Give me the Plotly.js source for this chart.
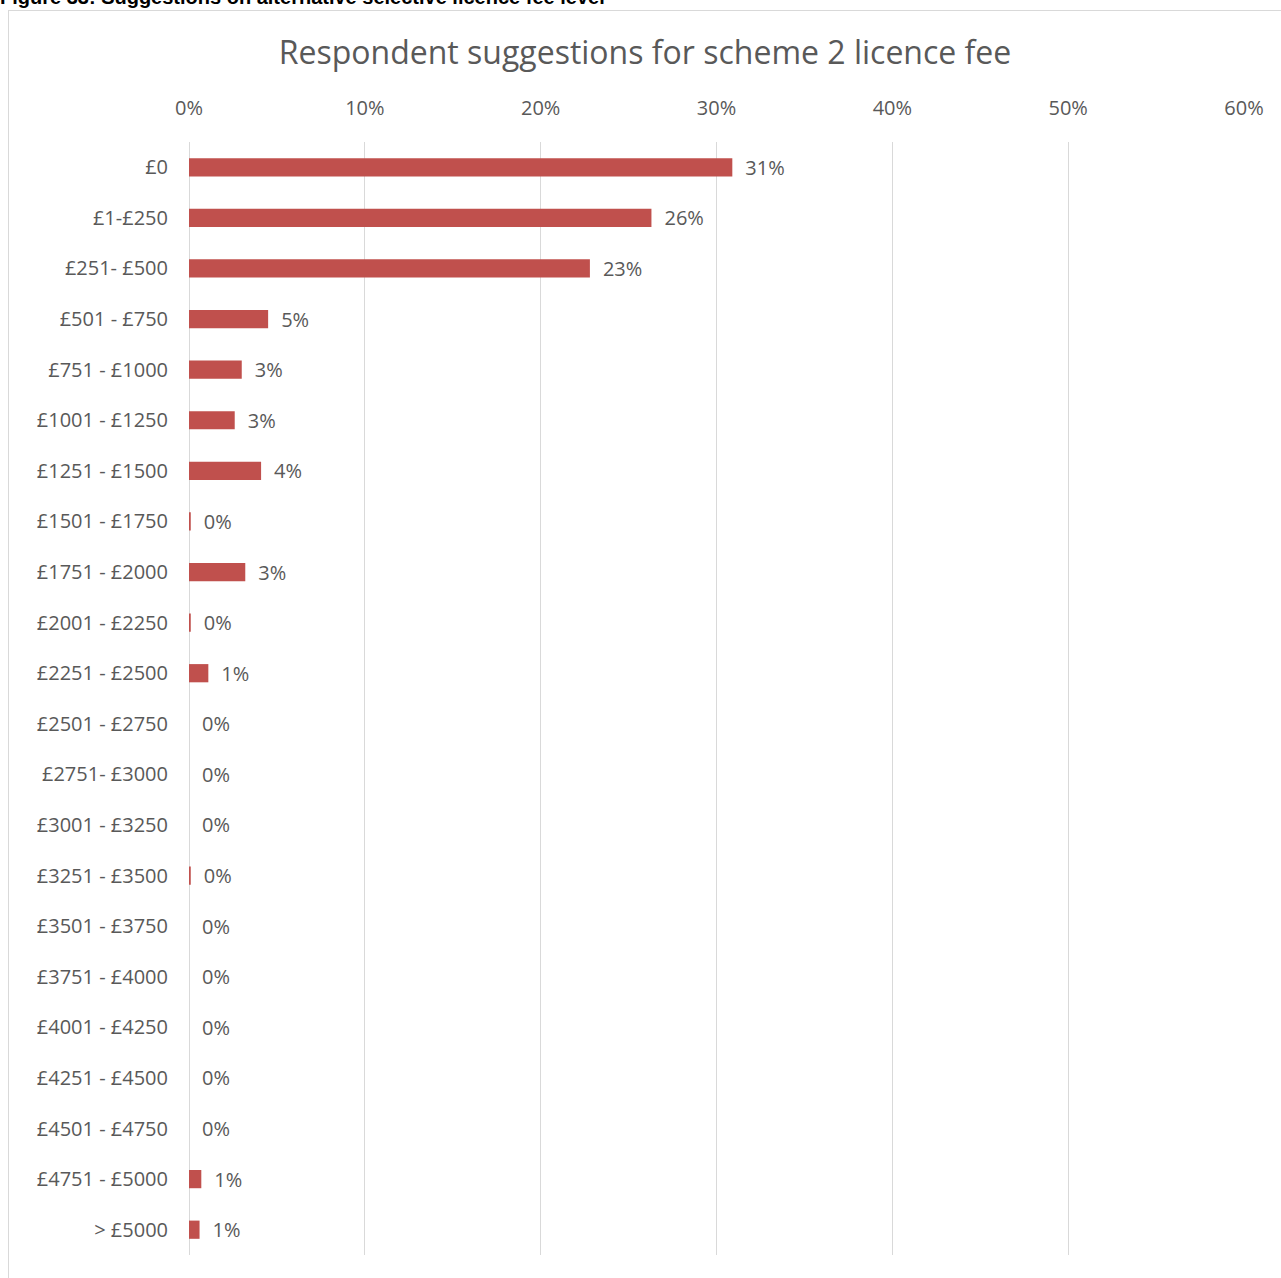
<!DOCTYPE html>
<html>
<head>
<meta charset="utf-8">
<script src="https://cdn.plot.ly/plotly-3.0.1.min.js"></script>
<style>
  html, body { margin: 0; padding: 0; width: 1281px; height: 1278px; overflow: hidden; background: #fff; }
  #caption { position: absolute; left: 0; top: -13px; font: bold 20px Arial, "Liberation Sans", sans-serif; color: #000; white-space: nowrap; line-height: 20px; }
  #frame { position: absolute; left: 8px; top: 10px; width: 1290px; height: 1290px; border: 1px solid #d9d9d9; background: #fff; }
  #chart { position: absolute; left: 9px; top: 11px; width: 1272px; height: 1267px; }
</style>
</head>
<body>
<div id="caption">Figure 33: Suggestions on alternative selective licence fee level</div>
<div id="frame"></div>
<div id="chart"></div>
<script>
const categories = ["£0", "£1-£250", "£251- £500", "£501 - £750", "£751 - £1000", "£1001 - £1250",
  "£1251 - £1500", "£1501 - £1750", "£1751 - £2000", "£2001 - £2250", "£2251 - £2500",
  "£2501 - £2750", "£2751- £3000", "£3001 - £3250", "£3251 - £3500", "£3501 - £3750",
  "£3751 - £4000", "£4001 - £4250", "£4251 - £4500", "£4501 - £4750", "£4751 - £5000", "> £5000"];
const percentages = [30.9, 26.3, 22.8, 4.5, 3.0, 2.6, 4.1, 0.1, 3.2, 0.1, 1.1,
  0, 0, 0, 0.1, 0, 0, 0, 0, 0, 0.7, 0.6];
const xTickValues = [0, 10, 20, 30, 40, 50, 60];
const xTickLabels = ["0%", "10%", "20%", "30%", "40%", "50%", "60%"];
const chartTitle = "Respondent suggestions for scheme 2 licence fee";

const grey = "#595959";
const fontFam = "'Open Sans', Lato, sans-serif";

const trace = {
  type: "bar",
  orientation: "h",
  x: percentages,
  y: categories,
  width: 0.36,
  marker: { color: "#C0504D", line: { width: 0 } },
  texttemplate: "\u2002%{x:.0f}%",
  textposition: "outside",
  constraintext: "none",
  cliponaxis: false,
  textfont: { family: fontFam, size: 20, color: grey },
  hoverinfo: "x+y"
};

const layout = {
  width: 1272,
  height: 1267,
  paper_bgcolor: "rgba(0,0,0,0)",
  plot_bgcolor: "rgba(0,0,0,0)",
  margin: { l: 180, r: 37, t: 131, b: 23 },
  showlegend: false,
  title: {
    text: chartTitle,
    font: { family: fontFam, size: 32, color: grey },
    x: 0.5, xanchor: "center",
    y: 1 - 42 / 1267, yanchor: "middle", yref: "container"
  },
  xaxis: {
    side: "top",
    range: [0, 60],
    tickvals: xTickValues,
    ticktext: xTickLabels,
    showgrid: true,
    gridcolor: "#d9d9d9",
    gridwidth: 1,
    zeroline: true,
    zerolinecolor: "#d9d9d9",
    zerolinewidth: 1,
    showline: false,
    ticks: "outside",
    ticklen: 18,
    tickcolor: "rgba(0,0,0,0)",
    tickfont: { family: fontFam, size: 20, color: grey },
    fixedrange: true
  },
  yaxis: {
    type: "category",
    autorange: "reversed",
    showgrid: false,
    zeroline: false,
    showline: false,
    ticks: "",
    ticklabelstandoff: 20,
    tickfont: { family: fontFam, size: 20, color: grey },
    fixedrange: true
  },
  bargap: 0.64
};

Plotly.newPlot("chart", [trace], layout, { displayModeBar: false, staticPlot: true });
</script>
</body>
</html>
